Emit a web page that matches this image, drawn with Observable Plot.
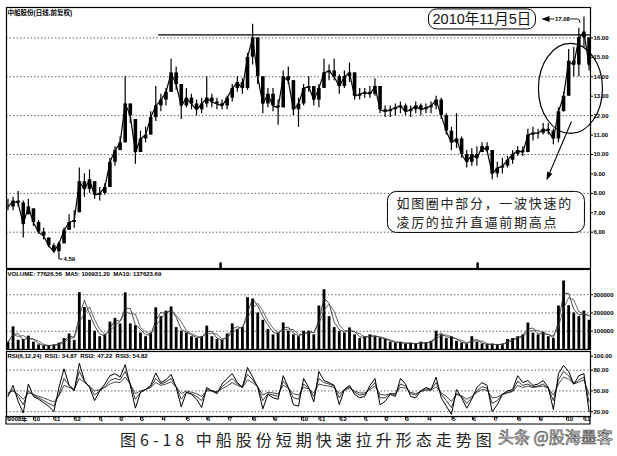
<!DOCTYPE html>
<html><head><meta charset="utf-8">
<script src="https://cdn.jsdelivr.net/npm/d3@7"></script>
<script src="https://cdn.jsdelivr.net/npm/@observablehq/plot@0.6"></script>
<style>
body{margin:0;background:#fff;}
#wrap{position:relative;width:617px;height:456px;overflow:hidden;background:#fff;}
#wrap svg{position:absolute;left:0;}
#caption{position:absolute;left:120px;top:429px;font-family:"Noto Sans CJK SC",sans-serif;font-size:16px;line-height:20px;letter-spacing:4px;color:#222;white-space:nowrap;}
#mark{position:absolute;left:498px;top:426px;font-family:"Noto Sans CJK SC",sans-serif;font-size:16px;line-height:20px;color:#fff;-webkit-text-stroke:0.7px #555;white-space:nowrap;}
</style></head><body><div id="wrap"></div>
<script>
// ---------- data (weekly) ----------
const weekStart = "2008-09-01";
const weekHigh = [7.7,7.8,8.1,7.6,7.7,7.2,6.6,6.2,5.7,5.4,
 5.5,6.2,6.9,7.1,9.3,9.0,9.2,8.6,8.3,8.5,
 9.8,10.4,10.9,14.0,12.6,11.8,11.2,11.4,12.2,13.5,
 13.1,13.4,14.9,14.5,13.6,13.4,13.1,12.8,12.9,14.0,
 13.1,12.9,12.8,13.0,13.6,14.0,13.9,15.2,16.7,16.0,
 14.0,13.4,13.4,12.8,14.3,14.5,13.8,12.9,13.6,14.0,
 13.5,13.6,14.9,14.6,14.9,14.1,14.3,14.7,14.2,13.4,
 13.4,13.5,13.9,13.5,12.5,12.5,12.6,12.7,12.6,12.5,
 12.7,12.6,12.6,12.7,13.0,12.9,12.1,11.4,12.1,10.9,
 10.2,10.3,10.4,10.6,10.6,10.2,9.6,9.8,9.9,10.2,
 10.4,10.4,11.3,11.4,11.3,11.6,11.6,11.3,12.4,13.2,
 15.4,15.5,16.5,17.08,16.0];
const weekLow = [7.1,7.1,7.3,5.7,6.9,6.3,5.9,5.6,5.2,4.9,
 4.59,5.4,6.1,6.2,7.0,7.8,8.0,7.7,7.6,7.9,
 8.3,9.4,10.2,10.6,11.6,9.5,10.1,10.6,11.0,11.7,
 12.2,12.5,13.2,13.3,11.8,12.4,12.3,12.0,12.1,12.4,
 12.4,12.3,12.3,12.3,12.7,13.2,13.1,13.3,14.6,13.6,
 12.1,12.4,12.2,11.5,12.4,13.6,12.0,11.4,12.5,13.2,
 12.5,12.4,13.4,13.8,13.8,13.1,13.4,13.7,12.8,12.8,
 12.9,12.9,13.0,12.1,11.9,11.9,12.0,12.1,12.0,11.9,
 12.1,12.0,12.1,12.1,12.3,11.8,11.0,10.2,10.3,9.8,
 9.3,9.4,9.4,10.1,10.1,8.7,8.8,9.0,9.3,9.5,
 9.9,9.9,10.1,10.7,10.8,11.0,11.0,10.5,10.6,12.2,
 13.0,14.0,14.0,15.5,14.3];
const weekClose = [7.3,7.6,7.5,6.4,7.3,6.5,6.0,5.8,5.3,5.0,
 5.4,6.1,6.5,6.6,8.6,8.2,8.7,7.9,8.0,8.3,
 9.6,10.2,10.6,12.6,12.0,10.1,10.8,11.0,11.9,12.5,
 12.8,13.2,14.2,13.6,12.5,12.9,12.6,12.3,12.6,12.9,
 12.7,12.6,12.5,12.9,13.4,13.7,13.4,15.0,16.0,14.0,
 12.6,13.1,12.5,12.4,14.0,13.8,12.3,12.6,13.4,13.5,
 12.8,13.4,14.2,14.3,14.0,13.5,14.0,14.2,13.0,13.1,
 13.2,13.1,13.5,12.3,12.2,12.3,12.4,12.5,12.2,12.3,
 12.5,12.3,12.4,12.5,12.8,12.0,11.2,10.6,10.8,10.0,
 9.6,10.0,9.8,10.4,10.2,9.0,9.3,9.4,9.7,10.0,
 10.2,10.1,11.0,11.1,11.1,11.3,11.2,10.8,12.2,13.0,
 14.8,14.6,16.0,16.3,14.6];
const weekVolume = [40000,124000,50000,55000,73000,40000,25000,20000,22000,25000,
 35000,60000,85000,50000,311000,230000,160000,100000,70000,80000,
 150000,170000,140000,310000,140000,130000,90000,70000,90000,228000,
 180000,210000,233000,120000,100000,90000,70000,60000,70000,128000,
 70000,55000,50000,85000,140000,110000,120000,284000,276000,200000,
 160000,110000,80000,90000,145000,100000,80000,70000,100000,100000,
 80000,238000,327000,180000,120000,100000,90000,118000,80000,60000,
 70000,80000,70000,60000,55000,40000,35000,40000,30000,35000,
 30000,40000,35000,45000,100000,80000,60000,70000,45000,35000,
 30000,70000,40000,30000,25000,30000,25000,30000,55000,60000,
 70000,80000,145000,90000,80000,95000,70000,60000,238000,375000,
 240000,200000,180000,210000,160000];
const rsi6 = [42,58,35,18,60,42,38,33,28,20,
 55,82,58,50,90,65,55,36,50,60,
 72,75,70,88,58,25,48,52,58,76,
 62,66,74,55,27,48,45,38,26,55,
 50,46,60,68,75,62,55,84,70,55,
 24,45,40,38,72,55,30,28,68,55,
 34,78,65,62,58,30,52,58,45,40,
 42,58,68,30,35,45,42,68,60,42,
 40,50,55,52,70,40,28,16,52,40,
 25,38,55,62,58,20,30,45,50,52,
 72,62,65,58,60,65,55,23,75,87,
 78,60,72,75,20];
const rsi12 = [45,52,42,30,50,44,40,36,32,28,
 45,68,58,52,78,64,56,44,50,56,
 65,68,66,78,60,38,48,52,56,68,
 60,63,68,56,38,48,46,42,36,52,
 50,48,56,62,68,60,56,74,66,56,
 36,46,44,42,64,55,40,38,60,54,
 42,68,62,60,57,40,52,56,48,44,
 45,54,62,40,40,46,45,60,57,46,
 44,50,53,52,62,45,36,26,46,42,
 32,40,50,56,54,32,36,45,48,50,
 64,58,60,56,57,60,54,36,66,78,
 72,60,66,70,34];
const rsi24 = [47,50,45,38,47,45,42,40,37,34,
 43,58,55,52,68,62,57,50,52,55,
 60,63,62,70,60,46,50,52,55,62,
 58,60,63,56,46,50,48,46,42,50,
 50,49,53,57,62,58,55,66,62,56,
 44,48,47,46,58,54,46,44,55,53,
 47,60,58,57,55,46,51,54,50,47,
 47,52,57,45,44,46,46,55,54,48,
 46,49,51,51,56,47,42,35,45,43,
 38,42,48,52,51,40,41,45,47,49,
 58,55,57,55,56,57,54,44,60,70,
 67,60,63,66,45];

const priceTicks = [6,7,8,9,10,11,12,13,14,15,16];
const priceGrid = [6,8,10,12,14,16];
const volTicks = [100000,200000,300000];
const rsiTicks = [20,50,80,100];
const rsiGrid = [20,50,80];
const monthDates = ["2008-09-01","2008-10-06","2008-11-03","2008-12-01","2009-01-05","2009-02-02","2009-03-02","2009-04-01","2009-05-04","2009-06-01","2009-07-01","2009-08-03","2009-09-01","2009-10-09","2009-11-02","2009-12-01","2010-01-04","2010-02-01","2010-03-01","2010-04-01","2010-05-04","2010-06-01","2010-07-01","2010-08-02","2010-09-01","2010-10-08","2010-11-01"];
const monthLabels = ["2008年","10","11","12","1","2","3","4","5","6","7","8","9","10","11","12","1","2","3","4","5","6","7","8","9","10","11"];
const resistance = [{from: "2009-03-29", price: 16.16}];
const infoMarks = ["2009-06-22","2010-06-10"];
const titleText = "中船股份(日线,前复权)";
const volText = "VOLUME: 77626.56  MA5: 100931.20  MA10: 137623.69";
const rsiText = "RSI(6,12,24)  RSI1: 34.87  RSI2: 47.22  RSI3: 54.82";
const dateNote = "2010年11月5日";
const noteLines = ["如图圈中部分，一波快速的", "凌厉的拉升直逼前期高点"];

// ---------- table ----------
const start = new Date(weekStart);
const dates = weekHigh.map((_, i) => d3.utcDay.offset(start, 7 * i + 2));
const bars = dates.map((date, i) => {
  const prev = i ? weekClose[i - 1] : weekClose[i];
  return {date, hi: weekHigh[i], lo: weekLow[i], close: weekClose[i],
    open: Math.max(weekLow[i], Math.min(weekHigh[i], prev)),
    vol: weekVolume[i], r1: rsi6[i], r2: rsi12[i], r3: rsi24[i]};
});
const xDomain = [start, new Date("2010-11-12")];
const W = 617, ML = 6, MR = 27;
const baseStyle = {background: "transparent", fontFamily: "'Liberation Sans','Noto Sans CJK SC',sans-serif", fontSize: "6px", fontWeight: "bold", overflow: "visible"};
const grid = {stroke: "#666", strokeOpacity: 1, strokeDasharray: "1.5,2"};
const axisOpts = {anchor: "right", tickSize: 2, tickPadding: 1, label: null, fontSize: 6, fontWeight: "bold"};
const wrap = document.getElementById("wrap");

// ---------- price panel ----------
const price = Plot.plot({
  width: W, height: 269, marginLeft: ML, marginRight: MR, marginTop: 7, marginBottom: 1,
  x: {type: "utc", domain: xDomain, axis: null},
  y: {domain: [4.132, 17.565]},
  style: baseStyle,
  marks: [
    Plot.gridY(priceGrid, grid),
    Plot.axisY(priceTicks, {...axisOpts, tickFormat: d3.format(".2f")}),
    Plot.ruleY(resistance, {y: "price", x1: d => new Date(d.from), x2: () => xDomain[1], stroke: "#000", strokeWidth: 1.3}),
    Plot.lineY(bars, {x: "date", y: "close", stroke: "#000", strokeWidth: 1.2}),
    Plot.ruleX(bars, {x: "date", y1: "lo", y2: "hi", stroke: "#000", strokeWidth: 1.2}),
    Plot.ruleX(bars, {x: "date", y1: "open", y2: "close", stroke: "#000", strokeWidth: 3.6}),
    Plot.ruleX(infoMarks, {x: d => new Date(d), y1: 4.132, y2: 4.42, stroke: "#000", strokeWidth: 2.5}),
    Plot.text([titleText], {text: d => d, frameAnchor: "top-left", dx: 1, dy: 3, fontSize: 6.5, fontWeight: "bold"}),
    Plot.frame({stroke: "#000", strokeWidth: 1.2})
  ]
});
price.style.top = "0px";
wrap.appendChild(price);

// annotations anchored on the high bar and the low bar
{
  const X = price.scale("x"), Y = price.scale("y");
  const pi = d3.maxIndex(weekHigh), li = d3.minIndex(weekLow);
  const px = X.apply(dates[pi]), py = Y.apply(weekHigh[pi]);
  const lx = X.apply(dates[li]), ly = Y.apply(weekLow[li]);
  const g = d3.select(price).append("g").attr("font-family", "'Liberation Sans','Noto Sans CJK SC',sans-serif").attr("font-weight", "normal").attr("text-anchor", "start");
  // low label
  g.append("line").attr("x1", lx + 1).attr("x2", lx + 4).attr("y1", ly).attr("y2", ly).attr("stroke", "#000");
  g.append("text").attr("x", lx + 5).attr("y", ly).attr("text-anchor", "start").attr("dominant-baseline", "central").attr("font-size", 6).attr("font-weight", "bold").text(weekLow[li].toFixed(2));
  // high label with arrow
  const hy = py + 2.5;
  g.append("path").attr("d", `M${px-40},${hy}H${px-6}Q${px-3.5},${hy} ${px-3.5},${hy+4}`).attr("fill", "none").attr("stroke", "#000").attr("stroke-width", 0.9);
  g.append("path").attr("d", `M${px-42},${hy}L${px-34},${hy-3}L${px-34},${hy+3}Z`).attr("fill", "#000");
  g.append("rect").attr("x", px-29).attr("y", hy-3.5).attr("width", 16).attr("height", 7).attr("fill", "#fff");
  g.append("text").attr("x", px-21).attr("y", hy).attr("text-anchor", "middle").attr("dominant-baseline", "central").attr("font-size", 6).attr("font-weight", "bold").text(weekHigh[pi].toFixed(2));
  // date box
  g.append("rect").attr("x", px-155).attr("y", py-7.5).attr("width", 107).attr("height", 20).attr("rx", 8).attr("fill", "#fff").attr("stroke", "#000").attr("stroke-width", 1);
  g.append("text").attr("x", px-101.5).attr("y", py+2.8).attr("text-anchor", "middle").attr("dominant-baseline", "central").attr("font-size", 14.5).attr("fill", "#111").text(dateNote);
  // ellipse
  g.append("ellipse").attr("cx", px-13).attr("cy", py+72).attr("rx", 32).attr("ry", 45).attr("fill", "none").attr("stroke", "#000").attr("stroke-width", 1.2);
  // pointer arrow
  const a1 = [px-12, py+105], a2 = [px-37, py+164];
  const ang = Math.atan2(a2[1]-a1[1], a2[0]-a1[0]), L = 9;
  g.append("line").attr("x1", a1[0]).attr("y1", a1[1]).attr("x2", a2[0] - 6*Math.cos(ang)).attr("y2", a2[1] - 6*Math.sin(ang)).attr("stroke", "#000").attr("stroke-width", 1.1);
  g.append("path").attr("d", `M${a2[0]},${a2[1]}L${a2[0]-L*Math.cos(ang-0.32)},${a2[1]-L*Math.sin(ang-0.32)}L${a2[0]-L*Math.cos(ang+0.32)},${a2[1]-L*Math.sin(ang+0.32)}Z`).attr("fill", "#000");
  // callout box
  g.append("rect").attr("x", px-196).attr("y", py+175).attr("width", 197).attr("height", 41).attr("rx", 9).attr("fill", "#fff").attr("stroke", "#000").attr("stroke-width", 1);
  noteLines.forEach((t, i) => {
    g.append("text").attr("x", px-187).attr("y", py+186.5 + i*19).attr("text-anchor", "start").attr("dominant-baseline", "central")
      .attr("font-family", "'Noto Sans CJK SC',sans-serif").attr("font-size", 13).attr("letter-spacing", "1.7px").attr("fill", "#222").text(t);
  });
}

// ---------- volume panel ----------
const vol = Plot.plot({
  width: W, height: 82, marginLeft: ML, marginRight: MR, marginTop: 1, marginBottom: 1,
  x: {type: "utc", domain: xDomain, axis: null},
  y: {domain: [0, 438000]},
  style: baseStyle,
  marks: [
    Plot.gridY(volTicks, grid),
    Plot.axisY(volTicks, {...axisOpts, tickFormat: d => String(d)}),
    Plot.ruleX(bars, {x: "date", y: "vol", stroke: "#000", strokeWidth: 2.8}),
    Plot.lineY(bars, Plot.windowY({k: 2, anchor: "end"}, {x: "date", y: "vol", stroke: "#222", strokeWidth: 0.8})),
    Plot.lineY(bars, Plot.windowY({k: 3, anchor: "end"}, {x: "date", y: "vol", stroke: "#444", strokeWidth: 0.8})),
    Plot.text([volText], {text: d => d, frameAnchor: "top-left", dx: 1, dy: 2, fontSize: 6, fontWeight: "bold"}),
    Plot.frame({stroke: "#000", strokeWidth: 1.2})
  ]
});
vol.style.top = "268px";
wrap.appendChild(vol);

// ---------- RSI panel with date strip ----------
const labelByTime = new Map(monthDates.map((d, i) => [+new Date(d), monthLabels[i]]));
const rsi = Plot.plot({
  width: W, height: 77, marginLeft: ML, marginRight: MR, marginTop: 2, marginBottom: 10,
  x: {type: "utc", domain: xDomain},
  y: {domain: [13, 107]},
  style: baseStyle,
  marks: [
    Plot.gridY(rsiGrid, grid),
    Plot.axisY(rsiTicks, {...axisOpts, tickFormat: d3.format(".2f")}),
    Plot.axisX(dates, {tickSize: 1.5, tickFormat: () => "", stroke: "#333"}),
    Plot.axisX(monthDates.map(d => new Date(d)), {tickSize: 4, tickPadding: -3.5, tickFormat: d => labelByTime.get(+d), textAnchor: "start", dx: 1.5, fontSize: 6, fontWeight: "bold", label: null, stroke: "#000"}),
    Plot.lineY(bars, {x: "date", y: "r3", stroke: "#333", strokeWidth: 0.9}),
    Plot.lineY(bars, {x: "date", y: "r2", stroke: "#222", strokeWidth: 0.9}),
    Plot.lineY(bars, {x: "date", y: "r1", stroke: "#000", strokeWidth: 1}),
    Plot.text([rsiText], {text: d => d, frameAnchor: "top-left", dx: 1, dy: 2, fontSize: 6, fontWeight: "bold"}),
    Plot.frame({stroke: "#000", strokeWidth: 1.2})
  ]
});
rsi.style.top = "349px";
wrap.appendChild(rsi);
{
  const s = d3.select(rsi);
  const x0 = ML, x1 = W - MR, yb = 75;
  s.append("path").attr("d", `M${x0},67V${yb}H${x1}V67`).attr("fill", "none").attr("stroke", "#000").attr("stroke-width", 1.2);
}

// ---------- caption & watermark ----------
const cap = document.createElement("div"); cap.id = "caption"; cap.textContent = "图6-18 中船股份短期快速拉升形态走势图"; wrap.appendChild(cap);
const mk = document.createElement("div"); mk.id = "mark"; mk.textContent = "头条 @股海墨客"; wrap.appendChild(mk);
</script></body></html>
